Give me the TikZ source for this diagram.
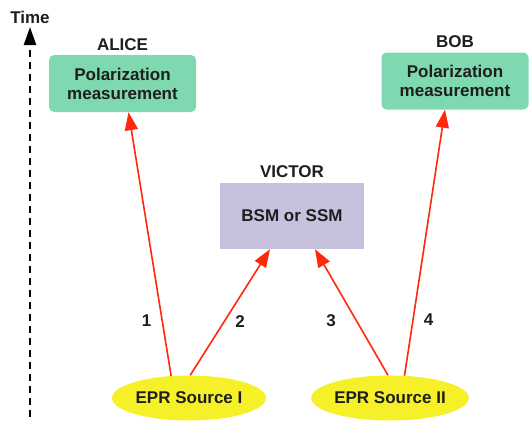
\documentclass[tikz,border=0pt]{standalone}
\usepackage{fontspec}
\setmainfont{Liberation Sans}
\usetikzlibrary{arrows.meta,positioning,calc,shapes.geometric}
\definecolor{boxgreen}{RGB}{126,216,176}
\definecolor{boxlilac}{RGB}{200,193,221}
\definecolor{srcyellow}{RGB}{246,240,40}
\definecolor{beamred}{RGB}{255,40,10}
\definecolor{inkgray}{RGB}{30,30,30}

\begin{document}
\begin{tikzpicture}[x=1pt, y=-1pt,
    font=\fontsize{17}{19}\selectfont\bfseries,
    every node/.style={text=inkgray, align=center},
    party/.style={rounded corners=5pt, fill=boxgreen, minimum width=147pt, minimum height=57pt},
    judge/.style={fill=boxlilac, minimum width=144pt, minimum height=66pt},
    source/.style={ellipse, fill=srcyellow, minimum width=154pt, minimum height=45pt, inner sep=0pt},
    tag/.style={inner sep=0pt},
    beam/.style={-{Triangle[length=18pt,width=13pt]}, beamred, line width=1.6pt},
    >=Latex]
    \useasboundingbox (0,0) rectangle (530,421);

    % time axis
    \node[tag] (time) at (30,17) {Time};
    \coordinate (tbot) at (30,417);
    \coordinate (ttop) at (30,27);
    \draw[-{Triangle[length=18pt,width=12pt]}, line width=2.4pt, dash pattern=on 7pt off 5pt] (tbot) -- (ttop);

    % parties
    \node[party] (alice) at (122.5,83.5) {Polarization\\measurement};
    \node[party] (bob)   at (455,81)    {Polarization\\measurement};
    \node[judge] (victor) at (292,216)  {BSM or SSM};
    \node[tag, above=4pt of alice]  (alicelbl)  {ALICE};
    \node[tag, above=4pt of bob]    (boblbl)    {BOB};
    \node[tag, above=5pt of victor] (victorlbl) {VICTOR};

    % sources
    \node[source] (srcI)  at (189,398) {EPR Source I};
    \node[source] (srcII) at (390,398) {EPR Source II};

    % photon pairs
    \draw[beam] (srcI.129) -- node[pos=0.21, left=10pt, tag]{1} ($(alice.south)+(6,0)$);
    \draw[beam] (srcI.87) -- node[pos=0.43, right=10pt, tag]{2} ($(victor.south)+(-22,0)$);
    \draw[beam] (srcII.95) -- node[pos=0.43, left=20pt, tag]{3} ($(victor.south)+(23,0)$);
    \draw[beam] (srcII.57) -- node[pos=0.21, right=10pt, tag]{4} ($(bob.south)+(-10,0)$);
  \end{tikzpicture}
\end{document}
